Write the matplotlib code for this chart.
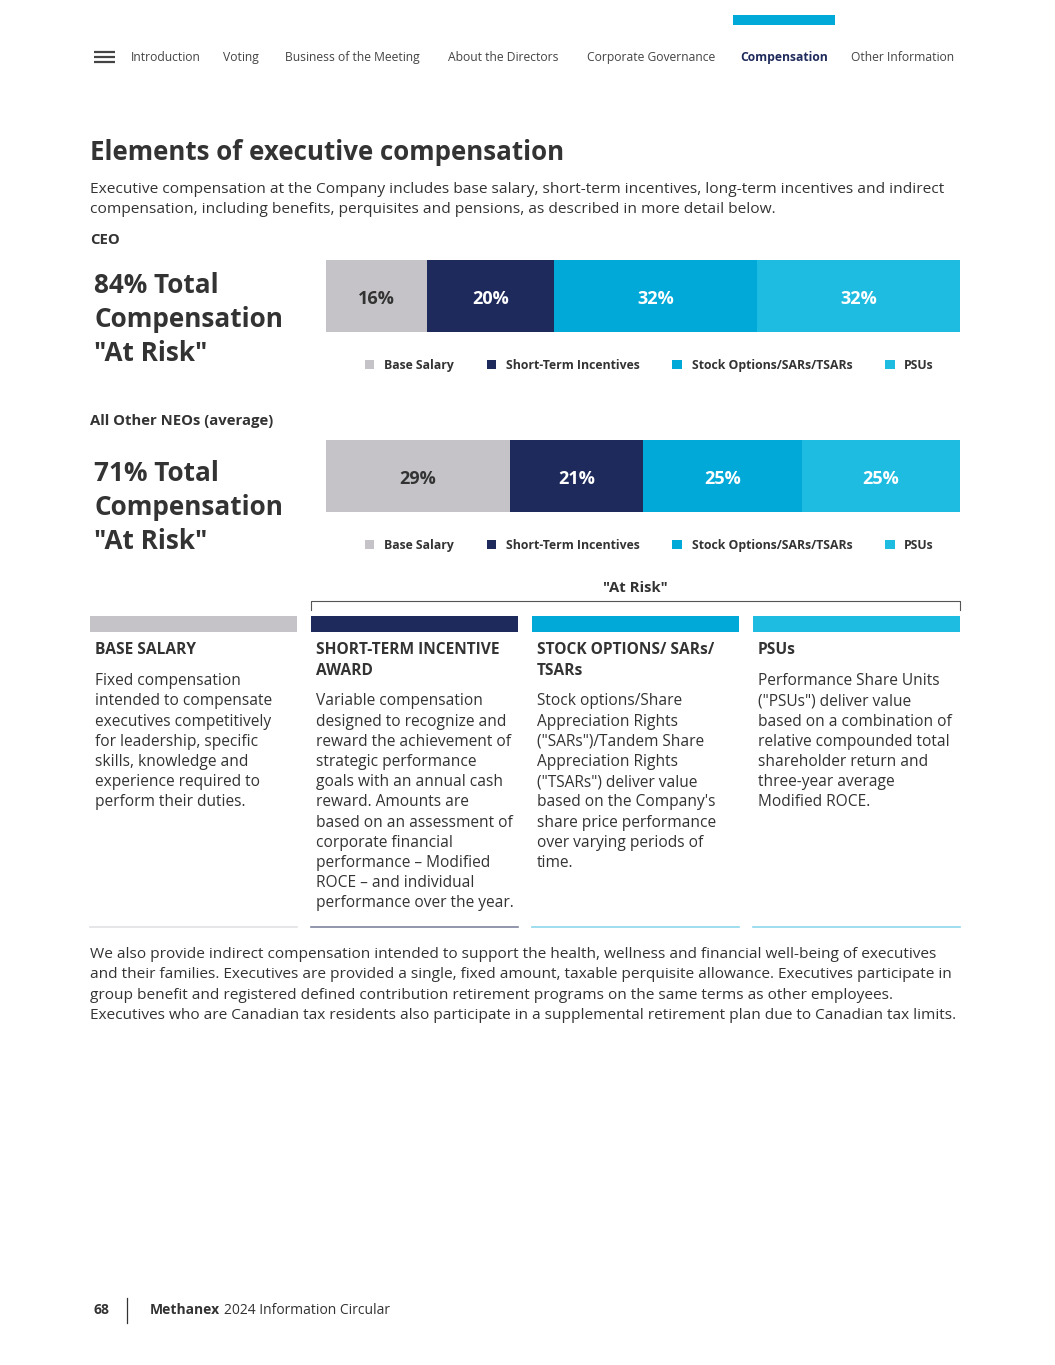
import matplotlib
matplotlib.use("Agg")
import matplotlib.pyplot as plt
from matplotlib.patches import Rectangle

plt.rcParams['font.family'] = ['Open Sans', 'DejaVu Sans']

# ---------------- data ----------------
categories = ["Base Salary", "Short-Term Incentives", "Stock Options/SARs/TSARs", "PSUs"]
ceo_values = [16, 20, 32, 32]
neo_values = [29, 21, 25, 25]
ceo_at_risk = 84
neo_at_risk = 71
colors = ["#C5C3C7", "#1F2A5C", "#00A9D8", "#1EBCE1"]
label_colors = ["#333333", "white", "white", "white"]
nav_items = ["Introduction", "Voting", "Business of the Meeting", "About the Directors",
             "Corporate Governance", "Compensation", "Other Information"]
col_heads = [["BASE SALARY"], ["SHORT-TERM INCENTIVE", "AWARD"],
             ["STOCK OPTIONS/ SARs/", "TSARs"], ["PSUs"]]
col_bodies = [
    ["Fixed compensation", "intended to compensate", "executives competitively",
     "for leadership, specific", "skills, knowledge and", "experience required to",
     "perform their duties."],
    ["Variable compensation", "designed to recognize and", "reward the achievement of",
     "strategic performance", "goals with an annual cash", "reward. Amounts are",
     "based on an assessment of", "corporate financial", "performance \u2013 Modified",
     "ROCE \u2013 and individual", "performance over the year."],
    ["Stock options/Share", "Appreciation Rights", "(\"SARs\")/Tandem Share",
     "Appreciation Rights", "(\"TSARs\") deliver value", "based on the Company's",
     "share price performance", "over varying periods of", "time."],
    ["Performance Share Units", "(\"PSUs\") deliver value", "based on a combination of",
     "relative compounded total", "shareholder return and", "three-year average",
     "Modified ROCE."],
]
bottom_line_colors = ["#E2E2E4", "#7F84A0", "#8ED8EC", "#8ED8EC"]

W, H = 1055, 1365
fig = plt.figure(figsize=(W / 100, H / 100), dpi=100)
ax0 = fig.add_axes([0, 0, 1, 1])
ax0.set_xlim(0, W)
ax0.set_ylim(H, 0)
ax0.axis('off')

TXT = "#333333"
NAVY = "#1F2A5C"
DY = 2.5  # center-alignment correction


def T(x, y, s, **kw):
    kw.setdefault('va', 'center')
    kw.setdefault('color', TXT)
    return ax0.text(x, y + DY, s, **kw)


# ---------- navigation ----------
ax0.add_patch(Rectangle((733, 15), 102, 10, color="#00A9D8", lw=0))
for yy in (52, 57, 62):
    ax0.plot([94, 115], [yy, yy], color="#444444", lw=1.6, solid_capstyle='butt')
nav_x = [131, 223, 285, 448, 587, 740, 851]
for x, t in zip(nav_x, nav_items):
    if t == "Compensation":
        T(x, 55, t, fontsize=8.7, fontweight='bold', color=NAVY)
    else:
        T(x, 55, t, fontsize=8.7, color="#444444")

# ---------- title and intro ----------
T(90, 150, "Elements of executive compensation", fontsize=18.6, fontweight='bold')
T(90, 187, "Executive compensation at the Company includes base salary, short-term incentives, "
  "long-term incentives and indirect", fontsize=11.15)
T(90, 207, "compensation, including benefits, perquisites and pensions, as described in more detail below.",
  fontsize=11.15)
T(90, 238, "CEO", fontsize=10.7, fontweight='bold')
T(90, 418, "All Other NEOs (average)", fontsize=10.7, fontweight='bold')

for y0, pct in ((283, ceo_at_risk), (471, neo_at_risk)):
    T(94, y0, f"{pct}% Total", fontsize=18.8, fontweight='bold')
    T(94, y0 + 34, "Compensation", fontsize=18.8, fontweight='bold')
    T(94, y0 + 68, "\"At Risk\"", fontsize=18.8, fontweight='bold')


def px_axes(x0, y0, x1, y1):
    return fig.add_axes([x0 / W, 1 - y1 / H, (x1 - x0) / W, (y1 - y0) / H])


def stacked_bar(y_top, values):
    ax = px_axes(326, y_top, 960, y_top + 72)
    left = 0
    handles = []
    for v, c, lc, cat in zip(values, colors, label_colors, categories):
        b = ax.barh([0], [v], left=left, color=c, height=1.0, label=cat, lw=0)
        handles.append(b)
        ax.text(left + v / 2, -0.045, f"{v}%", ha='center', va='center', fontsize=13,
                fontweight='bold', color=lc)
        left += v
    ax.set_xlim(0, 100)
    ax.set_ylim(-0.5, 0.5)
    ax.axis('off')
    leg = ax.legend(handles=handles, labels=categories, loc='center', ncol=4,
                    bbox_to_anchor=(0.51, -0.46), frameon=False,
                    prop={'weight': 'bold', 'size': 8.8}, handlelength=0.8,
                    handleheight=0.8, handletextpad=0.8, columnspacing=2.65)
    for t in leg.get_texts():
        t.set_color(TXT)
    return ax


stacked_bar(260, ceo_values)
stacked_bar(440, neo_values)

# ---------- At Risk bracket ----------
T(635, 586, "\"At Risk\"", fontsize=10.7, fontweight='bold', ha='center')
ax0.plot([311, 311, 960, 960], [610, 601, 601, 610], color="#555555", lw=0.8)

# ---------- columns ----------
col_x = [90, 311, 532, 753]
col_w = 207
for i, x in enumerate(col_x):
    ax0.add_patch(Rectangle((x, 616), col_w, 16, color=colors[i], lw=0))
    y = 648
    for h in col_heads[i]:
        T(x + 5, y, h, fontsize=11.2, fontweight='bold')
        y += 20.2
    y += 10.5
    for line in col_bodies[i]:
        T(x + 5, y, line, fontsize=11.2)
        y += 20.2
    ax0.plot([x, x + col_w], [927, 927], color=bottom_line_colors[i], lw=1.2)

# ---------- closing paragraph ----------
para = [
    "We also provide indirect compensation intended to support the health, wellness and financial well-being of executives",
    "and their families. Executives are provided a single, fixed amount, taxable perquisite allowance. Executives participate in",
    "group benefit and registered defined contribution retirement programs on the same terms as other employees.",
    "Executives who are Canadian tax residents also participate in a supplemental retirement plan due to Canadian tax limits.",
]
for k, line in enumerate(para):
    T(90, 952 + k * 20.3, line, fontsize=11.1)

# ---------- footer ----------
T(94, 1308, "68", fontsize=10, fontweight='bold')
ax0.plot([127, 127], [1298, 1323], color="#333333", lw=0.9)
T(150, 1308, "Methanex", fontsize=10, fontweight='bold')
T(224, 1308, "2024 Information Circular", fontsize=10)

fig.savefig("out.png", dpi=100, facecolor='white')
